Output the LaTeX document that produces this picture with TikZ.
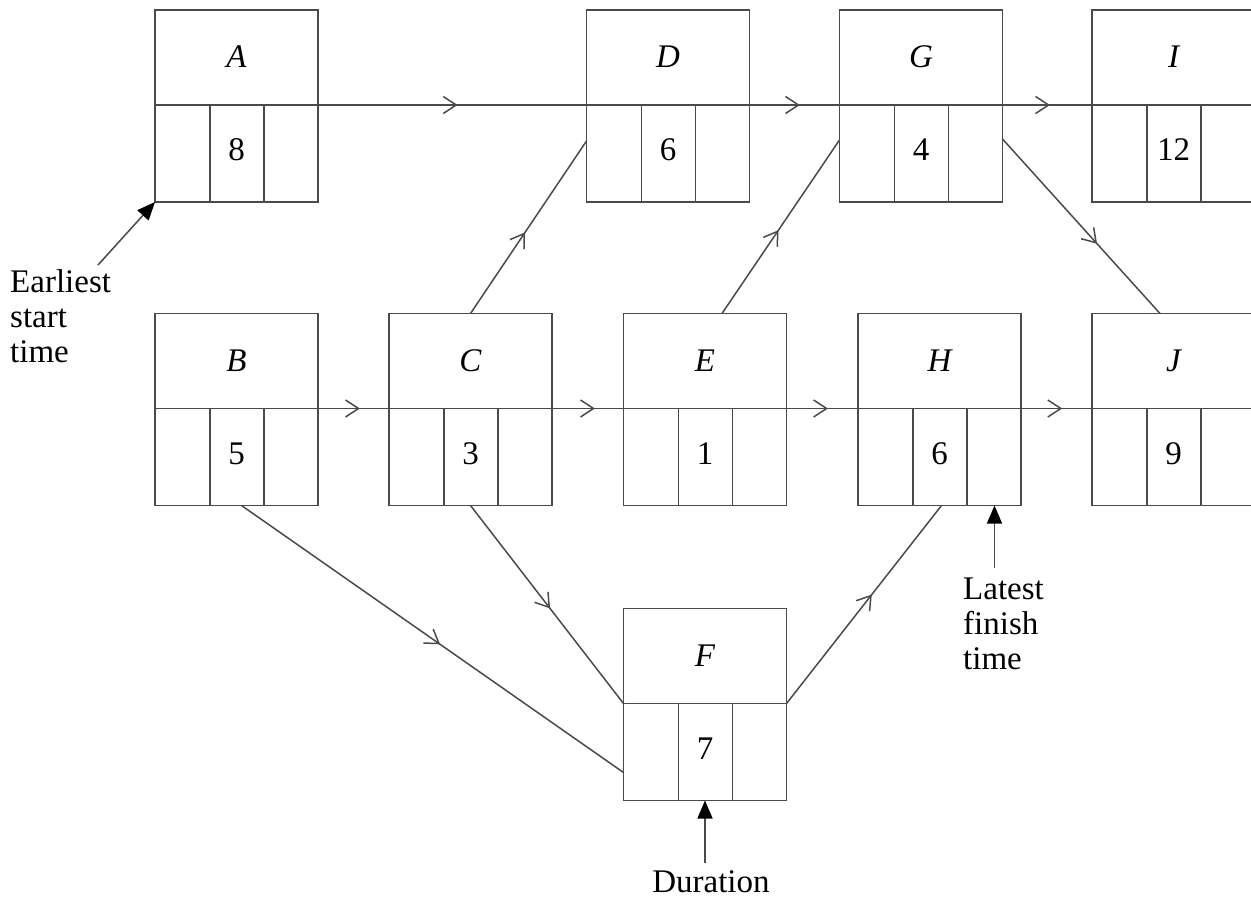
\documentclass[tikz,border=0pt]{standalone}
\usepackage{fontspec}
\setmainfont{Liberation Serif}
\usetikzlibrary{arrows.meta,calc,decorations.markings}
\definecolor{lncol}{HTML}{4A4A4A}
\tikzset{
  ln/.style={draw=lncol, line width=1.5pt},
  box/.style={ln, rectangle, minimum width=163pt, minimum height=192pt, inner sep=0pt, outer sep=0pt},
  lbl/.style={inner sep=0pt, font=\fontsize{33}{35}\selectfont},
  barb/.tip={Straight Barb[length=13pt,width=17pt,line width=1.5pt]},
  conn/.style={ln, postaction={decorate}, decoration={markings, mark=at position #1 with {\arrow{barb}}}},
  conn/.default=0.55,
  ann/.style={draw=lncol, line width=1.5pt, -{Triangle[length=18pt,width=15pt,color=black,fill=black]}},
  annt/.style={inner sep=0pt, align=left, font=\fontsize{33}{35}\selectfont},
}
\newcommand\actbox[5]{%
  \node[box] (#1) at (#2,#3) {};
  \coordinate (#1-dw) at ($(#1.north west)+(0,95)$);
  \coordinate (#1-de) at ($(#1.north east)+(0,95)$);
  \draw[ln] (#1-dw) -- (#1-de);
  \draw[ln] ($(#1-dw)+(55,0)$) -- ($(#1.south west)+(55,0)$);
  \draw[ln] ($(#1-dw)+(109,0)$) -- ($(#1.south west)+(109,0)$);
  \node[lbl,font=\fontsize{33}{35}\selectfont\itshape] (#1-name) at ($(#1.north)+(0,47)$) {#4};
  \node[lbl] (#1-dur) at ($(#1.north)+(0,140)$) {#5};
}
\begin{document}
\begin{tikzpicture}[x=1pt,y=-1pt]
\useasboundingbox (0,0) rectangle (1251,897);
\clip (0,0) rectangle (1251,897);
% boxes
\actbox{A}{236.5}{106}{A}{8}
\actbox{D}{668}{106}{D}{6}
\actbox{G}{921}{106}{G}{4}
\actbox{I}{1173.5}{106}{I}{12}
\actbox{B}{236.5}{409.5}{B}{5}
\actbox{C}{470.5}{409.5}{C}{3}
\actbox{E}{705}{409.5}{E}{1}
\actbox{H}{939.5}{409.5}{H}{6}
\actbox{J}{1173.5}{409.5}{J}{9}
\actbox{F}{705}{704.5}{F}{7}
% horizontal connectors
\draw[conn=0.52] (A-de) -- (D-dw);
\draw[conn=0.56] (D-de) -- (G-dw);
\draw[conn=0.53] (G-de) -- (I-dw);
\draw[conn=0.59] (B-de) -- (C-dw);
\draw[conn=0.6] (C-de) -- (E-dw);
\draw[conn=0.58] (E-de) -- (H-dw);
\draw[conn=0.58] (H-de) -- (J-dw);
% diagonal connectors
\draw[conn=0.47] (C.north) -- ($(D.south west)+(0,-61)$);
\draw[conn=0.48] ($(E.north)+(17,0)$) -- ($(G.south west)+(0,-62)$);
\draw[conn=0.6] ($(G.south east)+(0,-63)$) -- ($(J.north west)+(68,0)$);
\draw[conn=0.52] ($(B.south)+(5,0)$) -- ($(F.south west)+(0,-28)$);
\draw[conn=0.52] (C.south) -- (F-dw);
\draw[conn=0.55] (F-de) -- ($(H.south)+(2,0)$);
% annotations
\node[annt, anchor=north west] (est) at (10,269.5) {Earliest\\start\\time};
\coordinate (estTail) at (98,265);
\draw[ann] (estTail) -- (A.south west);
\node[annt, anchor=north west] (lft) at (963,577.5) {Latest\\finish\\time};
\coordinate (lftTail) at (994.5,568);
\draw[ann] (lftTail) -- ($(H.south)+(55,0)$);
\node[annt, anchor=base] (dur) at (711,892) {Duration};
\coordinate (durTail) at (705,863);
\draw[ann] (durTail) -- (F.south);
\end{tikzpicture}
\end{document}
